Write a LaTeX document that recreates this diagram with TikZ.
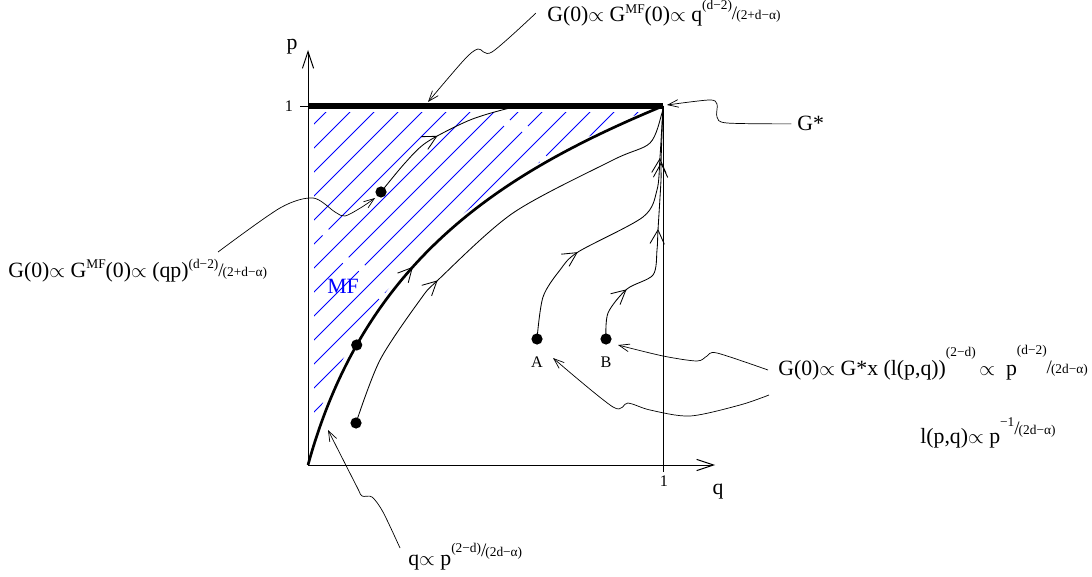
\documentclass[tikz,border=0pt]{standalone}
\usepackage{fontspec}
\setmainfont{Liberation Serif}
\usetikzlibrary{
  arrows.meta,
  decorations.markings
}
\newcommand{\scr}{\fontsize{9.5}{11}\selectfont}
% raised numerator, slash, lowered denominator
\newcommand{\pw}[4]{\raisebox{#1}{\scr #2}\raisebox{#3}{\fontsize{13.5}{13.5}\selectfont/\kern-0.05em\scr #4}}

\begin{document}
\begin{tikzpicture}[
  x=0.025cm, y=-0.025cm,
  font=\fontsize{15.5}{18}\selectfont,
  thinline/.style={line width=0.6pt},
  qpaxis/.style={line width=0.7pt, -{Straight Barb[length=4.2mm,width=2.8mm]}},
  separatrix/.style={line width=1.9pt},
  fixline/.style={line width=3.6pt},
  hatch/.style={blue, line width=0.6pt},
  flow/.style={line width=0.6pt},
  flowarrow/.style={postaction={decorate, decoration={markings,
      mark=at position #1 with {\arrow[line width=0.6pt]{Straight Barb[length=3.5mm,width=3.6mm]}}}}},
  lead/.style={line width=0.5pt, -{Straight Barb[length=2.6mm,width=1.9mm]}},
  fp/.style={circle, fill, inner sep=0pt, minimum size=2.8mm},
  lbl/.style={inner sep=0pt, anchor=base west},
  small/.style={font=\fontsize{11.5}{13}\selectfont},
]
  \useasboundingbox (0,0) rectangle (1092,577);

  \coordinate (orig) at (308,465);
  \coordinate (pone) at (308,106);
  \coordinate (gstarpt) at (663,106);
  \coordinate (qone) at (663,472);

  % mean-field region
  \begin{scope}
    \clip (314,113) rectangle (663,470);
    \clip[shift={(-6,0)}] (308,465) .. controls (364.8,258.2) and (503.3,172.2) .. (663,106)
      -- (300,100) -- (300,470) -- cycle;
    \foreach \c [evaluate=\c as \ph using {mod(\c*13,450)}] in {414,438,...,790}
      \draw[hatch, dash pattern=on 300pt off 6pt on 140pt off 6pt, dash phase=\ph pt] (\c-480,480) -- (\c-90,90);
  \end{scope}
  \node[blue] (mf) at (343,286) {MF};

  % fixed lines
  \draw[fixline] (pone) -- (gstarpt);
  \draw[thinline] (gstarpt) -- (qone);
  \draw[thinline] (300,106) -- (pone);

  % axes
  \draw[qpaxis] (orig) -- (715,465);
  \draw[qpaxis] (orig) -- (308,50);
  \node (plbl) at (292,47) {p};
  \node (qlbl) at (718,492) {q};
  \node[small] (ponelbl) at (289,106) {1};
  \node[small] (qonelbl) at (664,481) {1};

  % starting points
  \node[fp] (dotmf) at (381,192) {};
  \node[fp] (dotlow) at (356,423) {};
  \node[fp] (ptA) at (537,339) {};
  \node[fp] (ptB) at (606,339) {};
  \node[small] (albl) at (537,362) {A};
  \node[small] (blbl) at (606,362) {B};

  % flows
  \draw[separatrix, flowarrow=0.43] (orig) .. controls (364.8,258.2) and (503.3,172.2) .. node[fp, pos=0.22] (dotsep) {} (gstarpt);
  \draw[flow, flowarrow=0.45] plot[smooth] coordinates {(dotmf.center) (405,163) (427,142) (470,120) (510,108) (530,106)};
  \draw[flow, flowarrow=0.36] plot[smooth] coordinates {(dotlow.center) (380,360) (420,300) (438,280) (513,213) (613,160) (650,143) (662,113) (gstarpt)};
  \draw[flow, flowarrow=0.345, flowarrow=0.82] plot[smooth] coordinates {(ptA.center) (543,297) (560,270) (578,252) (643,217) (657,190) (660,157) (gstarpt)};
  \draw[flow, flowarrow=0.22, flowarrow=0.52, flowarrow=0.78] plot[smooth] coordinates {(ptB.center) (608,313) (627,289) (653,275) (657,250) (658,230) (661,180) (661,163) (gstarpt)};

  % labels
  \node[lbl] (toplbl) at (547,22) {G(0)$\propto$ G\raisebox{6pt}{\scr MF}(0)$\propto$ q\pw{9.2pt}{(d−2)}{2pt}{(2+d−α)}};
  \node[lbl] (gmflbl) at (8,277) {G(0)$\propto$ G\raisebox{6pt}{\scr MF}(0)$\propto$ (qp)\pw{5.7pt}{(d−2)}{0.7pt}{(2+d−α)}};
  \node[lbl] (gstarlbl) at (797,131) {G*};
  \node[lbl] (rlbl) at (778,375) {G(0)$\propto$ G*x (l(p,q))\raisebox{13pt}{\scr (2−d)}\,$\propto$\ \ p\pw{14.5pt}{(d−2)}{1.4pt}{(2d−α)}};
  \node[lbl] (llbl) at (920,443) {l(p,q)$\propto$ p\pw{12pt}{−1}{5.7pt}{(2d−α)}};
  \node[lbl] (qplbl) at (408,565) {q$\propto$ p\pw{9.2pt}{(2−d)}{6.4pt}{(2d−α)}};

  \coordinate (gmflead) at (218,252);
  \coordinate (rleadB) at (768,370);
  \coordinate (rleadA) at (769,395);
  \coordinate (qlead) at (400,548);

  % leaders
  \draw[lead] plot[smooth] coordinates {([xshift=-8pt]toplbl.west) (492,52) (478,49) (464,60) (428,102)};
  \draw[lead] plot[smooth] coordinates {(gmflead) (280,208) (313,198) (335,212) (345,216) (362,207) (375,198)};
  \draw[lead] plot[smooth] coordinates {([xshift=-4pt]gstarlbl.west) (727,123) (717,117) (717,104) (709,100) (667,105)};
  \draw[lead] plot[smooth] coordinates {(rleadB) (717,353) (707,356) (697,361) (663,356) (618,345)};
  \draw[lead] plot[smooth] coordinates {(rleadA) (740,405) (690,416) (650,410) (628,403) (613,407) (553,358)};
  \draw[lead] plot[smooth] coordinates {(qlead) (383,512) (372,497) (362,496) (357,487) (328,430)};
\end{tikzpicture}
\end{document}
